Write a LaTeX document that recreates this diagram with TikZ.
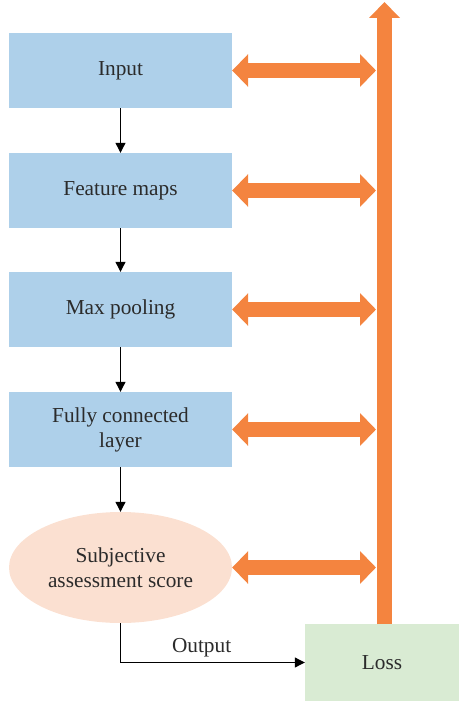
\documentclass[tikz,border=0pt]{standalone}
\usepackage{fontspec}
\setmainfont{Liberation Serif}
\usetikzlibrary{arrows.meta,shapes.geometric}
\definecolor{boxblue}{HTML}{AED0EA}
\definecolor{flow}{HTML}{F4843F}
\definecolor{scorefill}{HTML}{FBE0D1}
\definecolor{lossfill}{HTML}{D9EBD3}
\definecolor{txt}{HTML}{2B2B2B}
\begin{document}
\begin{tikzpicture}[x=1pt,y=-1pt,
  every node/.style={text=txt,font=\fontsize{21.3}{25}\selectfont,align=center,inner sep=0pt},
  layerbox/.style={rectangle,fill=boxblue,minimum width=223pt,minimum height=75pt},
  scorebox/.style={ellipse,fill=scorefill,minimum width=223pt,minimum height=111pt},
  lossbox/.style={rectangle,fill=lossfill,minimum width=154pt,minimum height=77pt},
  flowline/.style={black,line width=1.1pt,-{Triangle[length=10pt,width=10pt]}},
  feedback/.style={flow,line width=15pt,{Triangle[length=16pt,width=32pt]}-{Triangle[length=16pt,width=32pt]}},
  upbar/.style={flow,line width=15pt,-{Triangle[length=16pt,width=30pt]}}]
  \useasboundingbox (0,0) rectangle (459,701);

  % network stages
  \node[layerbox] (in) at (120.5,70.5) {Input};
  \node[layerbox] (fm) at (120.5,190.5) {Feature maps};
  \node[layerbox] (mp) at (120.5,309.5) {Max pooling};
  \node[layerbox] (fc) at (120.5,429.5) {Fully connected\\layer};
  \node[scorebox] (sc) at (120.5,567.5) {Subjective\\assessment score};
  \node[lossbox] (loss) at (382,662.5) {Loss};

  % forward pass
  \draw[flowline] (sc.south) |- node[pos=0.72,above=5pt] {Output} (loss.west);
  \draw[flowline] (in) -- (fm);
  \draw[flowline] (fm) -- (mp);
  \draw[flowline] (mp) -- (fc);
  \draw[flowline] (fc) -- (sc);

  % loss back-propagation bar
  \coordinate (barbot) at (384.5,624);
  \coordinate (bartop) at (384.5,2);
  \coordinate (barleft) at (376,0);
  \draw[upbar] (barbot) -- (bartop);

  % updates to every stage
  \draw[feedback] (in.east) -- (in.east -| barleft);
  \draw[feedback] (fm.east) -- (fm.east -| barleft);
  \draw[feedback] (mp.east) -- (mp.east -| barleft);
  \draw[feedback] (fc.east) -- (fc.east -| barleft);
  \draw[feedback] (sc.east) -- (sc.east -| barleft);
\end{tikzpicture}
\end{document}
